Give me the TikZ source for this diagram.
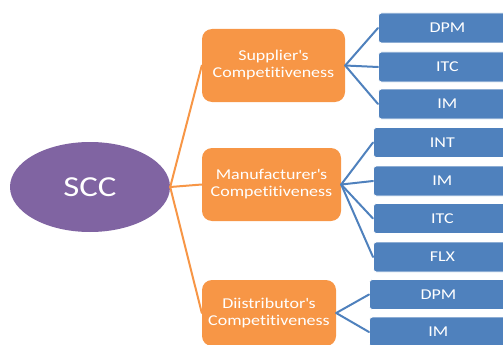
\documentclass[tikz,border=0pt]{standalone}
\usepackage{fontspec}
\setmainfont[FakeStretch=1.2, Ligatures={NoCommon,NoRequired}]{Carlito}
\usetikzlibrary{shapes.geometric}
\definecolor{sccpurple}{HTML}{8064A2}
\definecolor{comporange}{HTML}{F79646}
\definecolor{leafblue}{HTML}{4F81BD}
\begin{document}
\begin{tikzpicture}[x=1pt, y=-1pt, font=\fontsize{15}{17}\selectfont, line join=round, line cap=round,
	root/.style={ellipse, fill=sccpurple, text=white, inner sep=0pt, minimum width=160pt, minimum height=90pt, font=\fontsize{29}{32}\selectfont},
	comp/.style={rounded corners=10pt, fill=comporange, text=white, align=center, inner sep=0pt, minimum height=73pt},
	leaf/.style={rounded corners=3pt, fill=leafblue, draw=white, line width=0.8pt, text=white, inner sep=0pt, minimum width=138pt, minimum height=30pt, anchor=west},
	orangeline/.style={draw=comporange, line width=2pt},
	blueline/.style={draw=leafblue, line width=2pt}]
	\useasboundingbox (0,0) rectangle (503,345);
	%Gốc
	\node[root] (scc) at (90,187) {SCC};
	%Các nhánh
	\node[comp, minimum width=143pt] (sup) at (273.5,65.5) {Supplier\textquotesingle s\\Competitiveness};
	\node[comp, minimum width=139pt] (man) at (271.5,184.5) {Manufacturer\textquotesingle s\\Competitiveness};
	\node[comp, minimum width=134pt, minimum height=66pt] (dis) at (269,313) {Diistributor\textquotesingle s\\Competitiveness};
	\foreach \b in {sup,man,dis}
	\draw[orangeline] (scc.east)--(\b.west);
	%Các lá
	\foreach \n/\t/\y in {dpmA/DPM/28, itcA/ITC/67, imA/IM/104}
	{\node[leaf] (\n) at (378,\y) {\t};
	\draw[blueline] (sup.east)--(\n.west);}
	\foreach \n/\t/\y in {intB/INT/142.5, imB/IM/181, itcB/ITC/218.5, flxB/FLX/257}
	{\node[leaf] (\n) at (373,\y) {\t};
	\draw[blueline] (man.east)--(\n.west);}
	\foreach \n/\t/\y in {dpmC/DPM/294.5, imC/IM/332}
	{\node[leaf] (\n) at (369,\y) {\t};
	\draw[blueline] (dis.east)--(\n.west);}
\end{tikzpicture}
\end{document}
